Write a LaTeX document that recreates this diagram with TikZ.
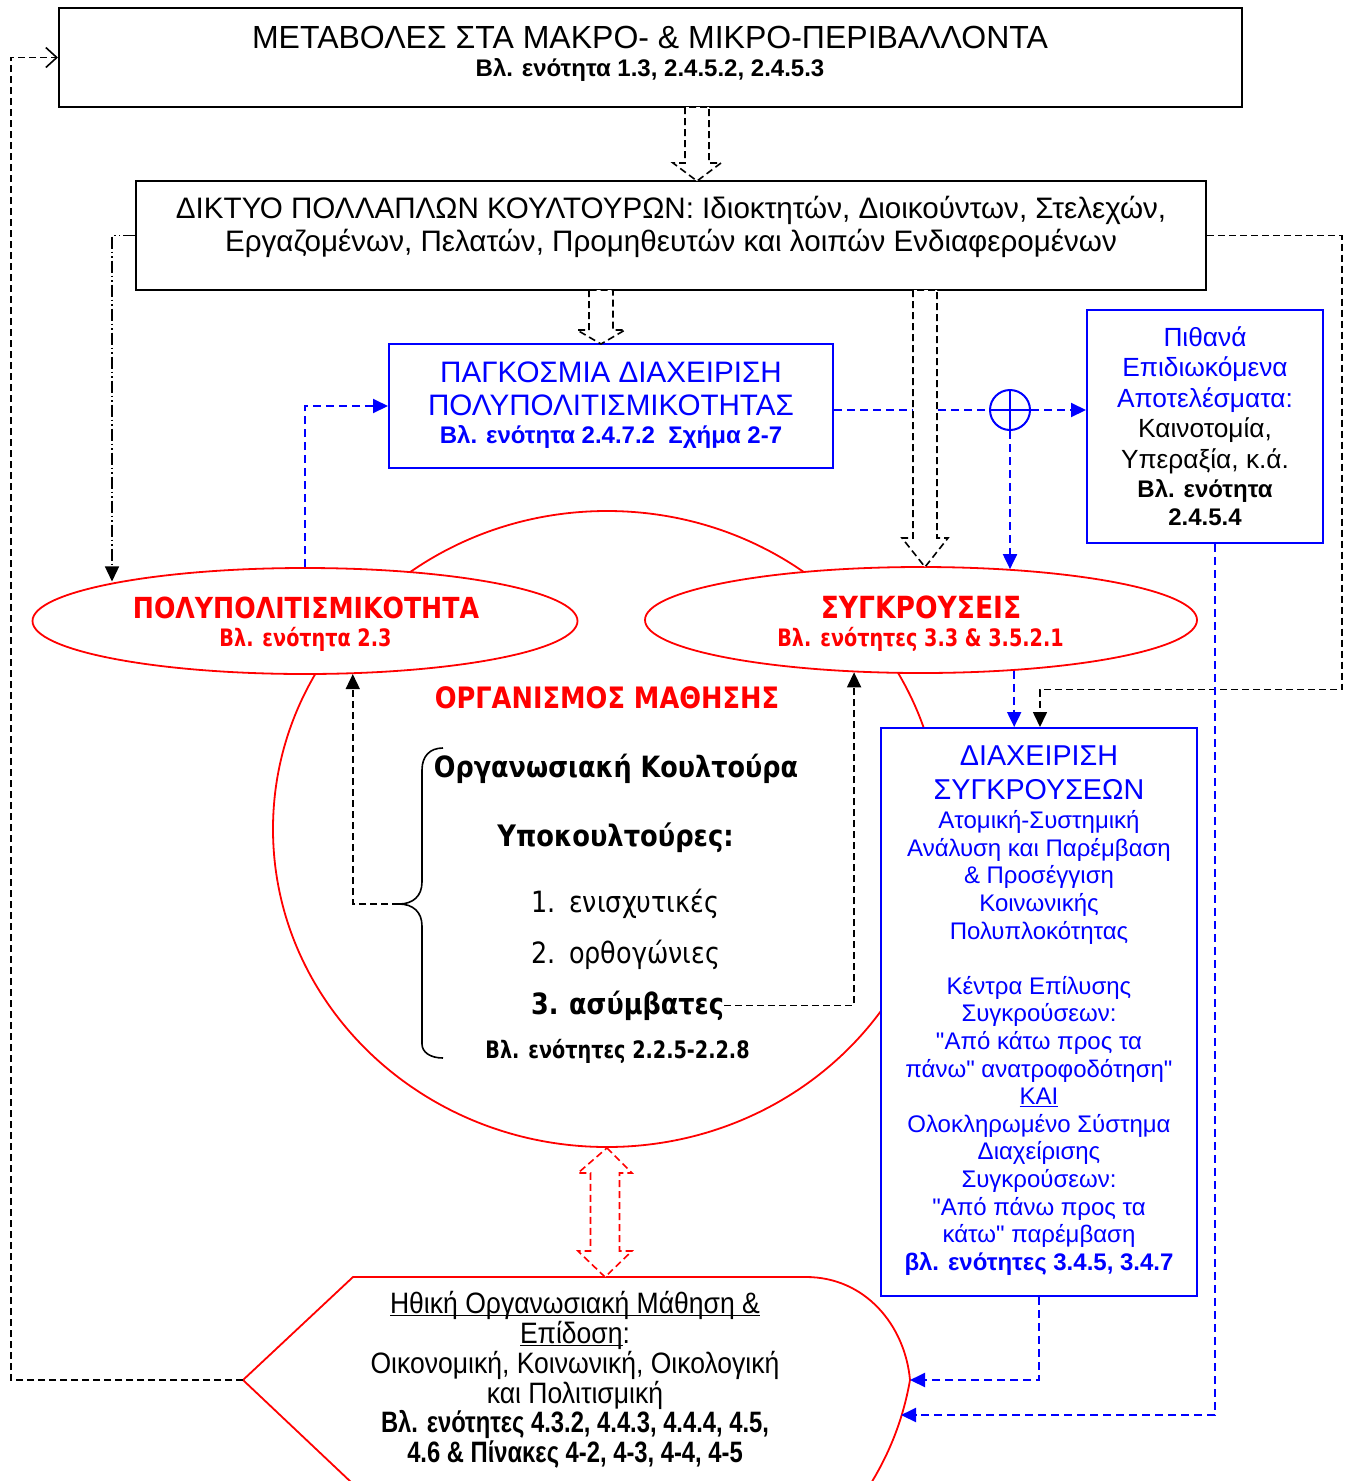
\documentclass[tikz,border=0pt]{standalone}
\usepackage{fontspec}
\setmainfont{Liberation Sans}[Ligatures=TeXOff]
\newfontfamily\tahfont[FakeStretch=0.87]{DejaVu Sans}
\newfontfamily\tahnarrow[FakeStretch=0.8]{DejaVu Sans}
\newfontfamily\narfont[FakeStretch=0.9,Ligatures=TeXOff]{Liberation Sans}
\usetikzlibrary{shapes.geometric,arrows.meta,calc}

\newcommand\fsz[2]{\fontsize{#1}{#2}\selectfont}
% underline set just below the baseline, through the descenders
\newcommand\wordline[1]{\setbox0\hbox{#1}\rlap{\rule[-2.6pt]{\wd0}{1.4pt}}\box0}
% condensed bold line
\newcommand\narbold[1]{\scalebox{0.895}[1]{\bfseries #1}}

% hollow dashed block arrow pointing down: x, y top, y tip, shaft half width, head half width, head length
\newcommand\hollowdown[6]{%
  \draw[hollow] ({#1-#4},#2) -- ({#1-#4},{#3-#6}) -- ({#1-#5},{#3-#6}) -- (#1,#3)
    -- ({#1+#5},{#3-#6}) -- ({#1+#4},{#3-#6}) -- ({#1+#4},#2) -- cycle;}

\tikzset{
  blackbox/.style={draw=black, line width=2, fill=white, inner sep=0},
  bluebox/.style={draw=blue, line width=2, fill=white, inner sep=0},
  redell/.style={ellipse, draw=red, line width=1.8, fill=white, inner sep=0},
  kdash/.style={draw=black, line width=1.6, dash pattern=on 7 off 4},
  bdash/.style={draw=blue, line width=2, dash pattern=on 8 off 5},
  kdashdot/.style={draw=black, line width=1.4, dash pattern=on 12 off 3 on 1.5 off 3 on 1.5 off 3},
  ktip/.style={-{Triangle[length=15,width=14]}},
  btip/.style={-{Triangle[length=15,width=14]}},
  opentip/.style={-{Straight Barb[length=11,width=20,line width=1.6]}},
  hollow/.style={draw=black, fill=white, line width=1.6, dash pattern=on 7 off 4, line join=miter},
  txt/.style={inner sep=0, align=center},
  lbl/.style={inner sep=0, anchor=base},
}

\begin{document}
\begin{tikzpicture}[x=1pt,y=-1pt]
\useasboundingbox (0,0) rectangle (1347,1481);
\fill[white] (0,0) rectangle (1347,1481);

% learning organisation (large red oval)
\node[redell, minimum width=668, minimum height=636] (org) at (607,829) {};

% ethical learning and performance (display shape)
\coordinate (ethL) at (243,1380);
\coordinate (ethR) at (910,1380);
\coordinate (ethR2) at (901,1415);
\coordinate (ethTop) at (605,1277);
\draw[red, line width=1.8, fill=white] (353,1277) -- (806,1277)
  .. controls (865,1277) and (905,1325) .. (ethR)
  .. controls (903,1420) and (888,1460) .. (860,1500)
  -- (370,1500) -- (ethL) -- cycle;

% boxes
\node[blackbox, minimum width=1183, minimum height=99] (top) at (650.5,57.5) {};
\node[blackbox, minimum width=1070, minimum height=109] (net) at (671,235.5) {};
\node[bluebox, minimum width=444, minimum height=124] (glob) at (611,406) {};
\node[bluebox, minimum width=236, minimum height=233] (outc) at (1205,426.5) {};
\node[bluebox, minimum width=316, minimum height=568] (mgmt) at (1039,1012) {};
\node[redell, minimum width=545, minimum height=106] (poly) at (305,621) {};
\node[redell, minimum width=552, minimum height=106] (confl) at (921,620) {};
\node[circle, draw=blue, line width=2, minimum size=40, inner sep=0] (sum) at (1010,410) {};
\draw[blue, line width=2] (sum.north) -- (sum.south) (sum.west) -- (sum.east);

% brace over the subcultures
\coordinate (bracetip) at (399,904);
\draw[black, line width=1.6] (443,748) .. controls (430,748) and (422,756) .. (422,770)
  -- (422,882) .. controls (422,896) and (413,904) .. (bracetip)
  .. controls (413,904) and (422,912) .. (422,926)
  -- (422,1044) .. controls (422,1052) and (430,1058) .. (443,1058);

% connectors
\draw[bdash] (sum -| glob.east) -- (sum.west);
\draw[bdash, btip] (sum.east) -- (sum.east -| outc.west);
\draw[bdash, btip] (sum.south) -- (sum.south |- confl.29.3);
\draw[bdash, btip] (poly.north) |- (glob.west);
\draw[bdash, btip] ($(confl.-28.5)+(-2,0)$) -- ($(confl.-28.5 |- mgmt.north)+(-2,0)$);
\draw[kdash, ktip] (net.east) -- ++(135,0) -- ++(0,454) -| ($(mgmt.north)+(1,0)$);
\draw[kdashdot, ktip] (net.west) -- ++(-23,0) coordinate (dd) -- (dd |- poly.168);
\draw[kdash, ktip] (bracetip) -| (poly.-48);
\draw[bdash, btip] (mgmt.south) |- (ethR);
\draw[bdash, btip] ($(outc.south)+(10,0)$) |- (ethR2);
\draw[kdash, opentip] (ethL) -- ++(-232,0) |- (top.west);

% hollow block arrows
\hollowdown{697}{107}{181}{12}{24}{18}
\hollowdown{601}{290}{344}{12}{24}{14}
\hollowdown{925}{290}{567}{12}{23}{29}
\draw[hollow, draw=red] (org.south) -- (632,1173) -- (619.5,1173) -- (619.5,1251) -- (632,1251)
  -- (ethTop) -- (578,1251) -- (590.5,1251) -- (590.5,1173) -- (578,1173) -- cycle;

% texts: top box
\node[txt, font=\fsz{32}{36}] (topT) at (650,37) {ΜΕΤΑΒΟΛΕΣ ΣΤΑ ΜΑΚΡΟ- \& ΜΙΚΡΟ-ΠΕΡΙΒΑΛΛΟΝΤΑ};
\node[txt, font=\bfseries\fsz{24}{28}] (topS) at (650,70) {Βλ. ενότητα 1.3, 2.4.5.2, 2.4.5.3};

% network of cultures
\node[txt, font=\fsz{29.6}{33}] (netT) at (671,227) {ΔΙΚΤΥΟ ΠΟΛΛΑΠΛΩΝ ΚΟΥΛΤΟΥΡΩΝ: Ιδιοκτητών, Διοικούντων, Στελεχών,\\Εργαζομένων, Πελατών, Προμηθευτών και λοιπών Ενδιαφερομένων};

% global diversity management
\node[txt, blue, font=\fsz{29.6}{33}] (globT) at (611,389) {ΠΑΓΚΟΣΜΙΑ ΔΙΑΧΕΙΡΙΣΗ\\ΠΟΛΥΠΟΛΙΤΙΣΜΙΚΟΤΗΤΑΣ};
\node[txt, blue, font=\bfseries\fsz{24}{28}] (globS) at (611,437) {Βλ. ενότητα 2.4.7.2~~Σχήμα 2-7};

% expected outcomes
\node[txt, font=\fsz{26.3}{30.5}] (outcA) at (1205,400) {\textcolor{blue}{Πιθανά}\\\textcolor{blue}{Επιδιωκόμενα}\\\textcolor{blue}{Αποτελέσματα:}\\Καινοτομία,\\Υπεραξία, κ.ά.};
\node[txt, font=\bfseries\fsz{24}{28}] (outcB) at (1205,503) {Βλ. ενότητα\\2.4.5.4};

% ellipses
\node[lbl, red, font=\tahfont\bfseries\fsz{29}{33}] (polyT) at (306,618) {ΠΟΛΥΠΟΛΙΤΙΣΜΙΚΟΤΗΤΑ};
\node[lbl, red, font=\tahnarrow\bfseries\fsz{24}{28}] (polyS) at (305.5,646) {Βλ. ενότητα 2.3};
\node[lbl, red, font=\tahfont\bfseries\fsz{30.5}{34}] (conflT) at (921,618) {ΣΥΓΚΡΟΥΣΕΙΣ};
\node[lbl, red, font=\tahnarrow\bfseries\fsz{24}{28}] (conflS) at (920.5,646) {Βλ. ενότητες 3.3 \& 3.5.2.1};

% inside the learning organisation
\node[lbl, red, font=\tahfont\bfseries\fsz{29.5}{33}] (orgT) at (607,708) {ΟΡΓΑΝΙΣΜΟΣ ΜΑΘΗΣΗΣ};
\node[lbl, font=\tahfont\bfseries\fsz{29.3}{34}] (cult) at (616,777) {Οργανωσιακή Κουλτούρα};
\node[lbl, font=\tahfont\bfseries\fsz{29.6}{34}] (subc) at (615.5,846) {Υποκουλτούρες:};
\node[lbl, anchor=base west, font=\tahfont\fsz{29.3}{34}] (n1) at (531,912) {\makebox[38pt][l]{1.}ενισχυτικές};
\node[lbl, anchor=base west, font=\tahfont\fsz{29.3}{34}] (n2) at (531,963) {\makebox[38pt][l]{2.}ορθογώνιες};
\node[lbl, anchor=base west, font=\tahfont\bfseries\fsz{29.3}{34}] (asym) at (531,1014) {\makebox[38pt][l]{3.}ασύμβατες};
\node[lbl, font=\tahnarrow\bfseries\fsz{24}{28}] (cultS) at (617.5,1058) {Βλ. ενότητες 2.2.5-2.2.8};
\draw[kdash, ktip] (asym.east) -| (confl.218);

% conflict management
\node[txt, blue, font=\fsz{28.7}{34}] (mgmtH) at (1039,773) {ΔΙΑΧΕΙΡΙΣΗ\\ΣΥΓΚΡΟΥΣΕΩΝ};
\node[txt, blue, font=\fsz{24}{27.6}] (mgmtT) at (1039,1043) {Ατομική-Συστημική\\Ανάλυση και Παρέμβαση\\\& Προσέγγιση\\Κοινωνικής\\Πολυπλοκότητας\\\mbox{}\\Κέντρα Επίλυσης\\Συγκρούσεων:\\"Από κάτω προς τα\\πάνω" ανατροφοδότηση"\\\wordline{ΚΑΙ}\\Ολοκληρωμένο Σύστημα\\Διαχείρισης\\Συγκρούσεων:\\"Από πάνω προς τα\\κάτω" παρέμβαση\\\textbf{βλ. ενότητες 3.4.5, 3.4.7}};

% ethical learning text
\node[txt, font=\narfont\fsz{29.5}{29.8}] (ethT) at (575,1380) {\wordline{Ηθική Οργανωσιακή Μάθηση \&}\\\wordline{Επίδοση}:\\Οικονομική, Κοινωνική, Οικολογική\\και Πολιτισμική\\\narbold{Βλ. ενότητες 4.3.2, 4.4.3, 4.4.4, 4.5,}\\\narbold{4.6 \& Πίνακες 4-2, 4-3, 4-4, 4-5}};
\end{tikzpicture}
\end{document}
